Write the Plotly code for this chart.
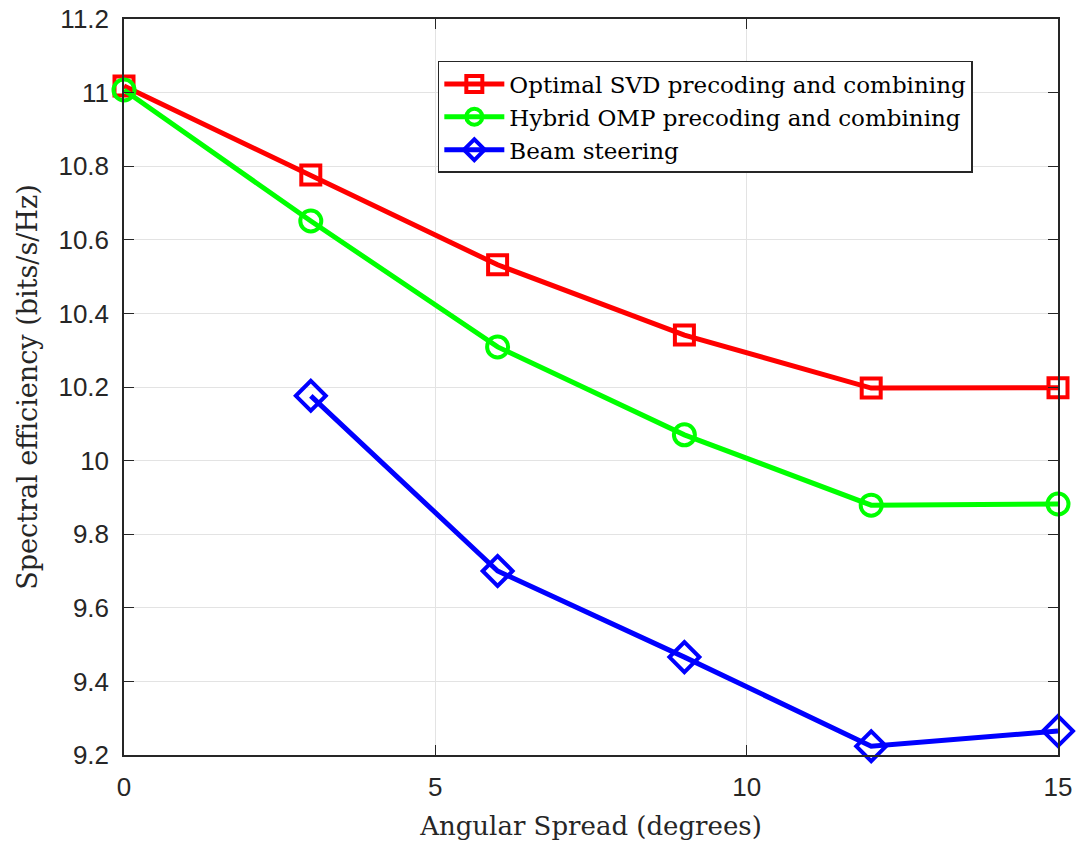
import plotly.graph_objects as go

x_svd = [0, 3, 6, 9, 12, 15]
y_svd = [11.018, 10.776, 10.532, 10.341, 10.197, 10.198]
x_omp = [0, 3, 6, 9, 12, 15]
y_omp = [11.007, 10.651, 10.309, 10.070, 9.879, 9.882]
x_bs = [3, 6, 9, 12, 15]
y_bs = [10.176, 9.700, 9.466, 9.224, 9.265]

names = ["Optimal SVD precoding and combining",
         "Hybrid OMP precoding and combining",
         "Beam steering"]
colors = ["#ff0000", "#00ff00", "#0000ff"]
symbols = ["square-open", "circle-open", "diamond-open"]
sizes = [19, 21, 23]

fig = go.Figure()
for xs, ys, n, c, s, sz in zip([x_svd, x_omp, x_bs], [y_svd, y_omp, y_bs], names, colors, symbols, sizes):
    fig.add_trace(go.Scatter(
        x=xs, y=ys, name=n, mode="lines+markers",
        line=dict(color=c, width=5),
        marker=dict(symbol=s, size=sz, color=c, line=dict(color=c, width=4)),
        cliponaxis=False,
    ))

axis_common = dict(
    showline=True, linecolor="#262626", linewidth=1.5, mirror="ticks",
    ticks="inside", ticklen=10, tickcolor="#262626",
    showgrid=True, gridcolor="#e3e3e3", gridwidth=1, zeroline=False,
    automargin=False,
    tickfont=dict(family="Liberation Sans, Arial", size=26, color="#262626"),
)

fig.update_layout(
    width=1080, height=843,
    margin=dict(l=124, r=22, t=19, b=88),
    plot_bgcolor="white", paper_bgcolor="white",
    showlegend=True,
    legend=dict(
        x=0.336, y=0.943, xanchor="left", yanchor="top",
        bgcolor="white", bordercolor="#262626", borderwidth=1.5,
        font=dict(family="DejaVu Serif, Liberation Serif", size=23, color="#000000"),
        tracegroupgap=0, itemwidth=60,
    ),
    xaxis=dict(range=[0, 15], tickvals=[0, 5, 10, 15], ticklabelstandoff=8,
               title=dict(text="Angular Spread (degrees)", standoff=16,
                          font=dict(family="DejaVu Serif, Liberation Serif", size=26, color="#262626")),
               **axis_common),
    yaxis=dict(range=[9.2, 11.2], tickvals=[9.2, 9.4, 9.6, 9.8, 10, 10.2, 10.4, 10.6, 10.8, 11, 11.2],
               ticktext=["9.2", "9.4", "9.6", "9.8", "10", "10.2", "10.4", "10.6", "10.8", "11", "11.2"],
               ticklabelstandoff=8,
               title=dict(text="Spectral efficiency (bits/s/Hz)", standoff=13,
                          font=dict(family="DejaVu Serif, Liberation Serif", size=27, color="#262626")),
               **axis_common),
)

fig.write_html("out.html")
